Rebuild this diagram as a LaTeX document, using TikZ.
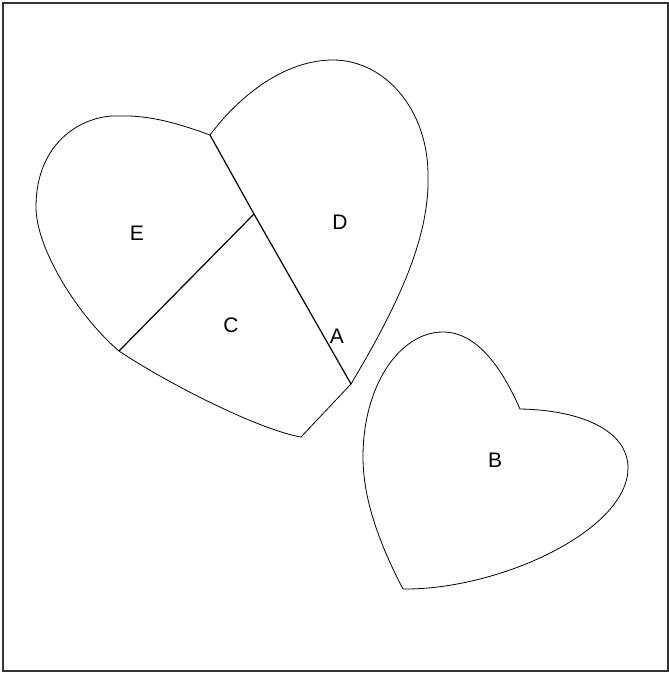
\documentclass[tikz,border=0pt]{standalone}
\usepackage{fontspec}
\setmainfont{Liberation Sans}

\tikzset{
    outline/.style={line width=0.8pt, line join=round},
    divider/.style={line width=1.2pt},
    lbl/.style={inner sep=0pt, font=\fontsize{21}{24}\selectfont},
}

\begin{document}
\begin{tikzpicture}[x=1pt, y=-1pt]

    \useasboundingbox (0,0) rectangle (669,675);
    \draw[line width=1.3pt, black!80] (3,3) rectangle (668,671);

    % big heart
    \coordinate (K) at (210, 135);
    \coordinate (T) at (301, 437);
    \coordinate (L) at (119, 351);
    \coordinate (R) at (351, 384);
    \coordinate (J) at (254, 214);

    \draw[outline] (K) .. controls (180,124) and (150,115) .. (120,116)
        .. controls (85,114) and (36,140) .. (36,207)
        .. controls (36,250) and (80,318) .. (L)
        .. controls (170,385) and (260,430) .. (T)
        -- (R)
        .. controls (395,310) and (430,240) .. (428,175)
        .. controls (428,110) and (385,60) .. (333,60)
        .. controls (285,60) and (240,95) .. (K);

    \draw[divider] (K) -- (J) -- (R);
    \draw[divider] (J) -- (L);

    % small heart
    \coordinate (S1) at (403, 589);
    \coordinate (S2) at (520, 409);

    \draw[outline] (S1) .. controls (380,545) and (363,500) .. (363,457)
        .. controls (363,385) and (400,332) .. (443,332)
        .. controls (480,332) and (505,375) .. (S2)
        .. controls (580,410) and (628,430) .. (628,468)
        .. controls (628,530) and (500,590) .. (S1);

    \node[lbl] (E) at (137, 233) {E};
    \node[lbl] (D) at (340, 222) {D};
    \node[lbl] (C) at (231, 325) {C};
    \node[lbl] (A) at (337, 336) {A};
    \node[lbl] (B) at (495, 460) {B};

\end{tikzpicture}
\end{document}
